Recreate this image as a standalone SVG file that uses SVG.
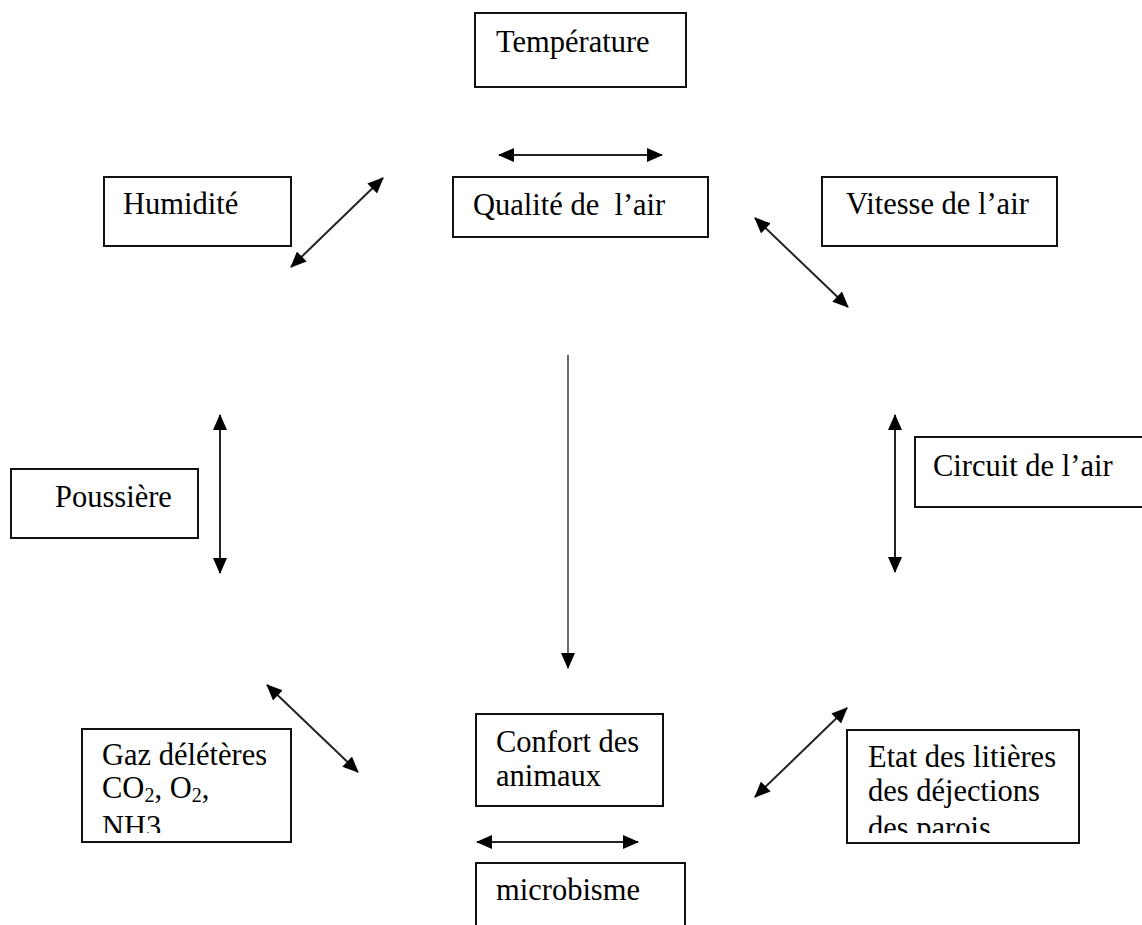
<svg xmlns="http://www.w3.org/2000/svg" width="1142" height="925" viewBox="0 0 1142 925">
<style>
.box{fill:#fff;stroke:#111;stroke-width:2}
.t{font-family:'Liberation Serif','Times New Roman',serif;font-size:30.5px;fill:#000}
.c{stroke:#222;stroke-width:2;fill:none;marker-start:url(#ah);marker-end:url(#ah)}
.c1{stroke:#444;stroke-width:1.6;fill:none;marker-end:url(#ah)}
</style>
<defs>
<marker id="ah" markerUnits="userSpaceOnUse" viewBox="0 0 16 14" refX="15" refY="7" markerWidth="16" markerHeight="14" orient="auto-start-reverse">
<path d="M0,0 L16,7 L0,14 Z" fill="#000"/>
</marker>
<clipPath id="clipGaz"><rect x="82" y="729" width="209" height="104"/></clipPath>
<clipPath id="clipEtat"><rect x="847" y="730" width="232" height="103"/></clipPath>
</defs>
<rect width="1142" height="925" fill="#fff"/>
<g id="connectors">
<line class="c" x1="499" y1="155" x2="662" y2="155"/>
<line class="c" x1="383" y1="178" x2="291" y2="267"/>
<line class="c" x1="755" y1="218" x2="848" y2="307"/>
<line class="c" x1="220" y1="415" x2="220" y2="573"/>
<line class="c" x1="895" y1="415" x2="895" y2="572"/>
<line class="c1" x1="568" y1="355" x2="568" y2="668"/>
<line class="c" x1="267" y1="685" x2="358" y2="772"/>
<line class="c" x1="847" y1="708" x2="755" y2="797"/>
<line class="c" x1="477" y1="842" x2="638" y2="842"/>
</g>
<g id="temperature">
<rect class="box" x="475" y="13" width="211" height="74"/>
<text class="t" x="496" y="52">Température</text>
</g>
<g id="qualite">
<rect class="box" x="453" y="177" width="255" height="60"/>
<text class="t" x="473" y="215" xml:space="preserve">Qualité de  l’air</text>
</g>
<g id="humidite">
<rect class="box" x="104" y="177" width="187" height="69"/>
<text class="t" x="123" y="214">Humidité</text>
</g>
<g id="vitesse">
<rect class="box" x="822" y="177" width="235" height="69"/>
<text class="t" x="846" y="214">Vitesse de l’air</text>
</g>
<g id="poussiere">
<rect class="box" x="11" y="469" width="187" height="69"/>
<text class="t" x="55" y="507">Poussière</text>
</g>
<g id="circuit">
<rect class="box" x="915" y="437" width="240" height="70"/>
<text class="t" x="933" y="476">Circuit de l’air</text>
</g>
<g id="gaz">
<rect class="box" x="82" y="729" width="209" height="113"/>
<g clip-path="url(#clipGaz)">
<text class="t" x="102" y="765">Gaz délétères</text>
<text class="t" x="102" y="798">CO<tspan font-size="20" dy="4">2</tspan><tspan dy="-4">, O</tspan><tspan font-size="20" dy="4">2</tspan><tspan dy="-4">,</tspan></text>
<text class="t" x="102" y="837">NH3</text>
</g>
</g>
<g id="confort">
<rect class="box" x="476" y="714" width="187" height="92"/>
<text class="t" x="496" y="752">Confort des</text>
<text class="t" x="496" y="786">animaux</text>
</g>
<g id="microbisme">
<rect class="box" x="476" y="863" width="209" height="80"/>
<text class="t" x="496" y="900">microbisme</text>
</g>
<g id="etat">
<rect class="box" x="847" y="730" width="232" height="113"/>
<g clip-path="url(#clipEtat)">
<text class="t" x="868" y="767">Etat des litières</text>
<text class="t" x="868" y="801">des déjections</text>
<text class="t" x="868" y="838">des parois</text>
</g>
</g>
</svg>
